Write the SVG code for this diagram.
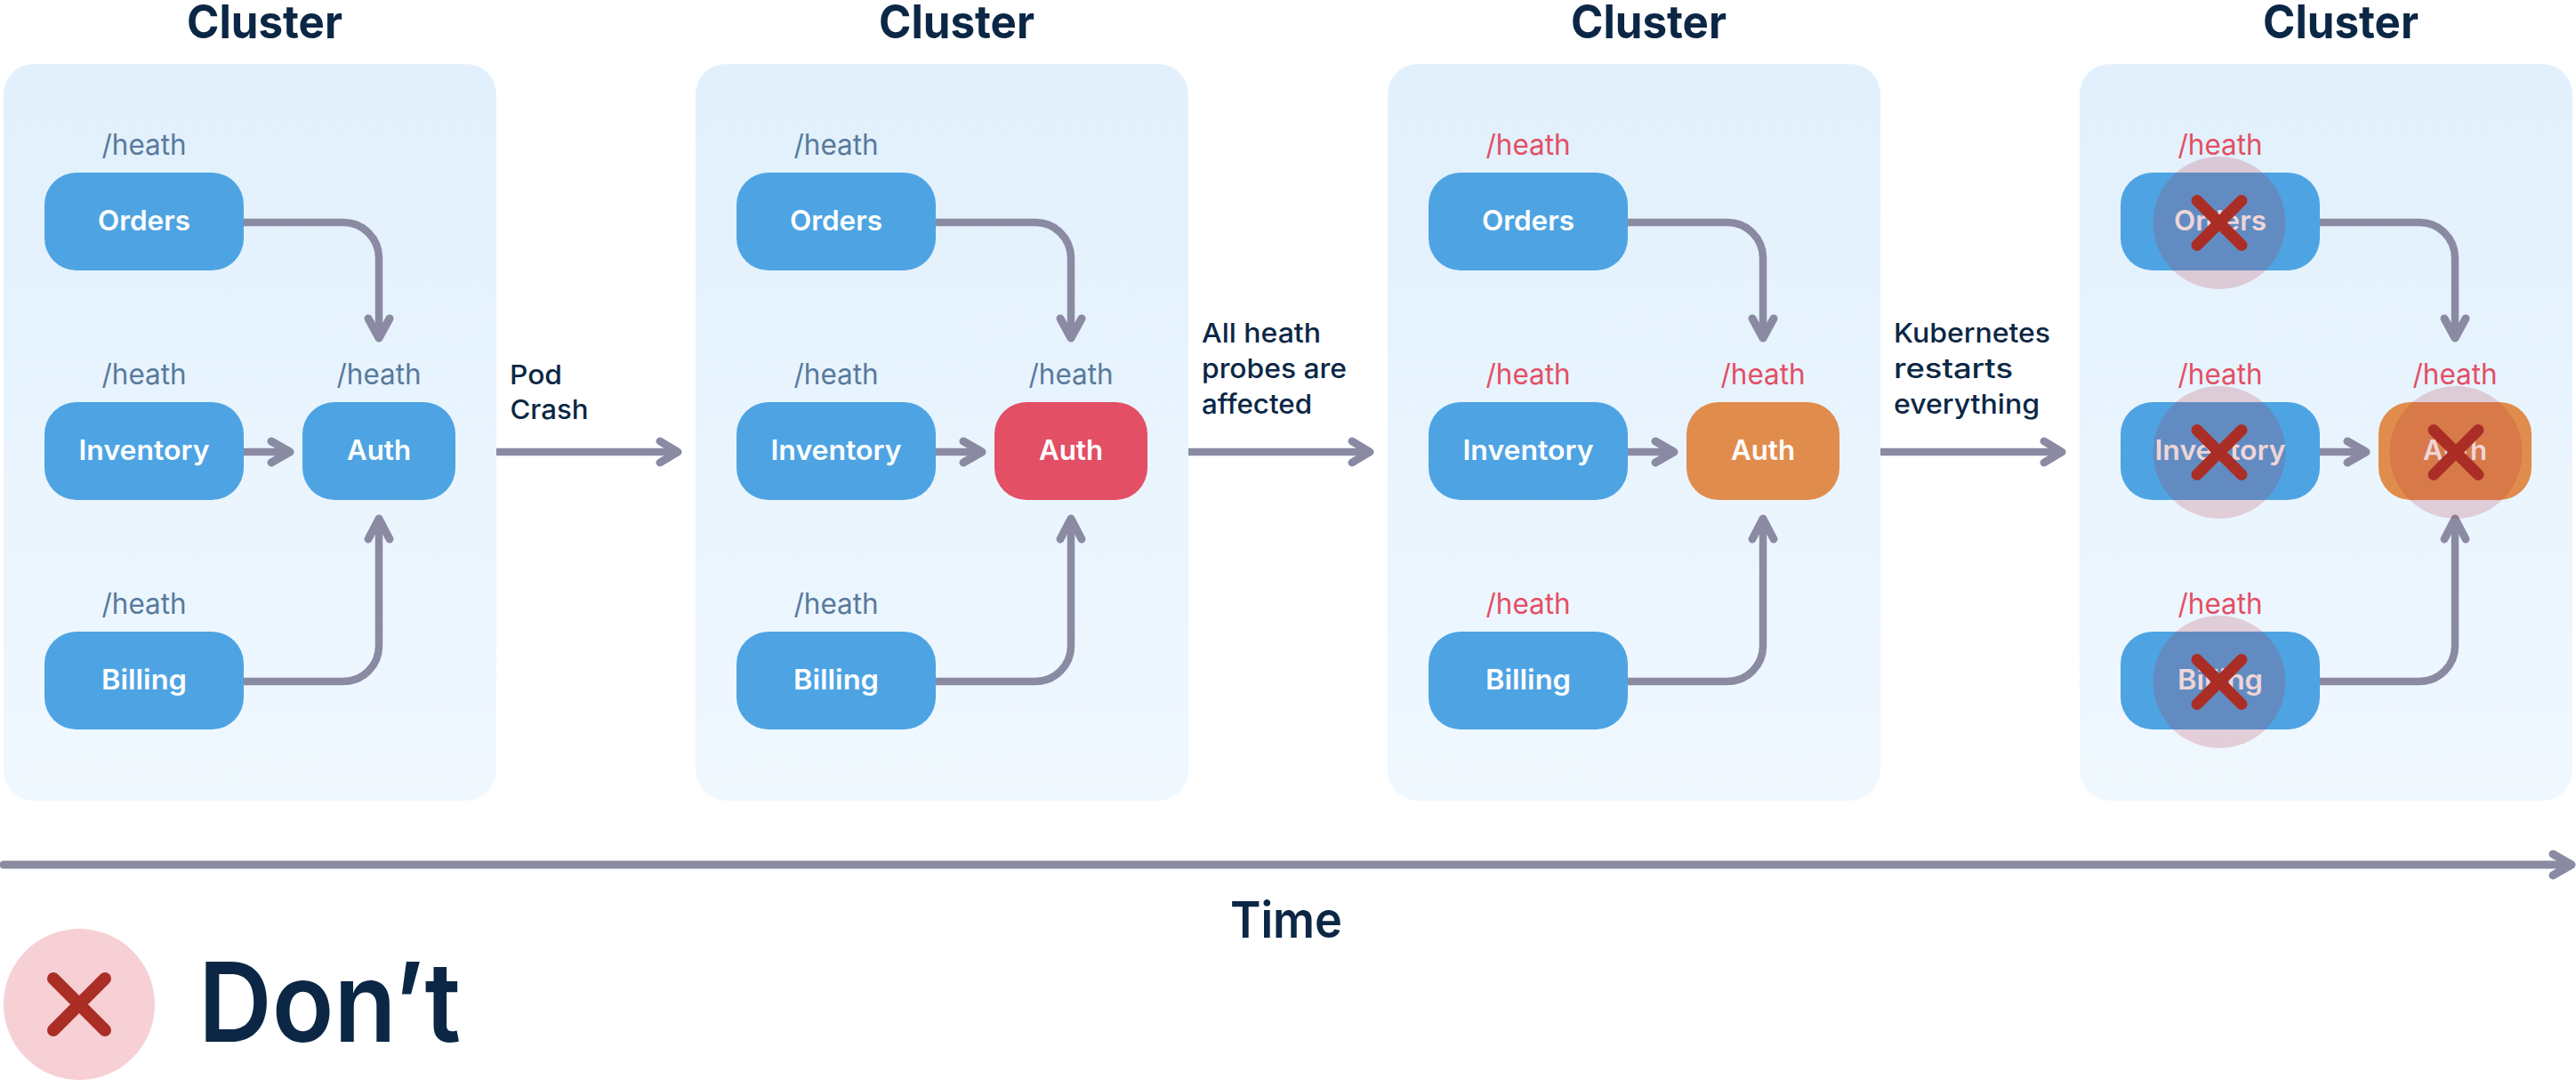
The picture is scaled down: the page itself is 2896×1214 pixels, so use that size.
<svg xmlns="http://www.w3.org/2000/svg" width="2896" height="1214" viewBox="0 0 2896 1214">
<style>
text{font-family:"Inter","Liberation Sans",sans-serif}
.title{font-size:52px;font-weight:700;fill:#0b2745;text-anchor:middle}
.time{font-size:56px;font-weight:600;fill:#0b2745;text-anchor:middle}
.dont{font-size:124px;font-weight:600;fill:#0b2745}
.lab{font-size:30px;font-weight:500;fill:#0b2745}
.hp{font-size:32px;font-weight:400;fill:#587a9c;text-anchor:middle}
.hr{font-size:32px;font-weight:400;fill:#e34f65;text-anchor:middle}
.nt{font-size:31px;font-weight:600;fill:#fff;text-anchor:middle}
.panel{fill:url(#pg)}
.blue{fill:#4ea4e3}.red{fill:#e34f65}.orange{fill:#e08c4d}
.c{fill:none;stroke:#8b8aa3;stroke-width:8.5;stroke-linecap:butt}
.h{fill:none;stroke:#8b8aa3;stroke-width:9;stroke-linecap:round;stroke-linejoin:round}
.o{fill:#b42d3c;fill-opacity:.2}
.x{stroke:#aa2e26;stroke-width:13;stroke-linecap:round;fill:none}
</style>
<defs>
<linearGradient id="pg" x1="0" y1="0" x2="0" y2="1"><stop offset="0" stop-color="#e1f0fc"/><stop offset="1" stop-color="#f0f8ff"/></linearGradient>
</defs>

<g id="panels">
<g id="cluster-1"><rect class="panel" x="4" y="72" width="554" height="828" rx="34"/><text class="title" x="297.5" y="43" textLength="175" lengthAdjust="spacingAndGlyphs">Cluster</text></g>
<g id="cluster-2"><rect class="panel" x="782" y="72" width="554" height="828" rx="34"/><text class="title" x="1075.5" y="43" textLength="175" lengthAdjust="spacingAndGlyphs">Cluster</text></g>
<g id="cluster-3"><rect class="panel" x="1560" y="72" width="554" height="828" rx="34"/><text class="title" x="1853.5" y="43" textLength="175" lengthAdjust="spacingAndGlyphs">Cluster</text></g>
<g id="cluster-4"><rect class="panel" x="2338" y="72" width="554" height="828" rx="34"/><text class="title" x="2631.5" y="43" textLength="175" lengthAdjust="spacingAndGlyphs">Cluster</text></g>
</g>

<g id="connectors">
<path class="c" d="M274 250H386A40 40 0 0 1 426 290V378"/><path class="h" d="M414 358L426 380L438 358"/>
<path class="c" d="M274 508H324"/><path class="h" d="M305 496L326 508L305 520"/>
<path class="c" d="M274 766H386A40 40 0 0 0 426 726V586"/><path class="h" d="M414 606L426 583L438 606"/>
<path class="c" d="M558 508H760"/><path class="h" d="M742 496L762 508L742 520"/>

<path class="c" d="M1052 250H1164A40 40 0 0 1 1204 290V378"/><path class="h" d="M1192 358L1204 380L1216 358"/>
<path class="c" d="M1052 508H1102"/><path class="h" d="M1083 496L1104 508L1083 520"/>
<path class="c" d="M1052 766H1164A40 40 0 0 0 1204 726V586"/><path class="h" d="M1192 606L1204 583L1216 606"/>
<path class="c" d="M1336 508H1538"/><path class="h" d="M1520 496L1540 508L1520 520"/>

<path class="c" d="M1830 250H1942A40 40 0 0 1 1982 290V378"/><path class="h" d="M1970 358L1982 380L1994 358"/>
<path class="c" d="M1830 508H1880"/><path class="h" d="M1861 496L1882 508L1861 520"/>
<path class="c" d="M1830 766H1942A40 40 0 0 0 1982 726V586"/><path class="h" d="M1970 606L1982 583L1994 606"/>
<path class="c" d="M2114 508H2316"/><path class="h" d="M2298 496L2318 508L2298 520"/>

<path class="c" d="M2608 250H2720A40 40 0 0 1 2760 290V378"/><path class="h" d="M2748 358L2760 380L2772 358"/>
<path class="c" d="M2608 508H2658"/><path class="h" d="M2639 496L2660 508L2639 520"/>
<path class="c" d="M2608 766H2720A40 40 0 0 0 2760 726V586"/><path class="h" d="M2748 606L2760 583L2772 606"/>

<path class="h" d="M4 972H2888"/><path class="h" d="M2870 960L2891 972L2870 984"/>
</g>

<g id="c1-orders"><text class="hp" x="162" y="174" textLength="95" lengthAdjust="spacingAndGlyphs">/heath</text><rect class="blue" x="50" y="194" width="224" height="110" rx="36"/><text class="nt" x="162" y="259" textLength="104" lengthAdjust="spacingAndGlyphs">Orders</text></g>
<g id="c1-inventory"><text class="hp" x="162" y="432" textLength="95" lengthAdjust="spacingAndGlyphs">/heath</text><rect class="blue" x="50" y="452" width="224" height="110" rx="36"/><text class="nt" x="162" y="517" textLength="147" lengthAdjust="spacingAndGlyphs">Inventory</text></g>
<g id="c1-billing"><text class="hp" x="162" y="690" textLength="95" lengthAdjust="spacingAndGlyphs">/heath</text><rect class="blue" x="50" y="710" width="224" height="110" rx="36"/><text class="nt" x="162" y="775" textLength="96" lengthAdjust="spacingAndGlyphs">Billing</text></g>
<g id="c1-auth"><text class="hp" x="426" y="432" textLength="95" lengthAdjust="spacingAndGlyphs">/heath</text><rect class="blue" x="340" y="452" width="172" height="110" rx="36"/><text class="nt" x="426" y="517" textLength="72" lengthAdjust="spacingAndGlyphs">Auth</text></g>

<g id="c2-orders"><text class="hp" x="940" y="174" textLength="95" lengthAdjust="spacingAndGlyphs">/heath</text><rect class="blue" x="828" y="194" width="224" height="110" rx="36"/><text class="nt" x="940" y="259" textLength="104" lengthAdjust="spacingAndGlyphs">Orders</text></g>
<g id="c2-inventory"><text class="hp" x="940" y="432" textLength="95" lengthAdjust="spacingAndGlyphs">/heath</text><rect class="blue" x="828" y="452" width="224" height="110" rx="36"/><text class="nt" x="940" y="517" textLength="147" lengthAdjust="spacingAndGlyphs">Inventory</text></g>
<g id="c2-billing"><text class="hp" x="940" y="690" textLength="95" lengthAdjust="spacingAndGlyphs">/heath</text><rect class="blue" x="828" y="710" width="224" height="110" rx="36"/><text class="nt" x="940" y="775" textLength="96" lengthAdjust="spacingAndGlyphs">Billing</text></g>
<g id="c2-auth"><text class="hp" x="1204" y="432" textLength="95" lengthAdjust="spacingAndGlyphs">/heath</text><rect class="red" x="1118" y="452" width="172" height="110" rx="36"/><text class="nt" x="1204" y="517" textLength="72" lengthAdjust="spacingAndGlyphs">Auth</text></g>

<g id="c3-orders"><text class="hr" x="1718" y="174" textLength="95" lengthAdjust="spacingAndGlyphs">/heath</text><rect class="blue" x="1606" y="194" width="224" height="110" rx="36"/><text class="nt" x="1718" y="259" textLength="104" lengthAdjust="spacingAndGlyphs">Orders</text></g>
<g id="c3-inventory"><text class="hr" x="1718" y="432" textLength="95" lengthAdjust="spacingAndGlyphs">/heath</text><rect class="blue" x="1606" y="452" width="224" height="110" rx="36"/><text class="nt" x="1718" y="517" textLength="147" lengthAdjust="spacingAndGlyphs">Inventory</text></g>
<g id="c3-billing"><text class="hr" x="1718" y="690" textLength="95" lengthAdjust="spacingAndGlyphs">/heath</text><rect class="blue" x="1606" y="710" width="224" height="110" rx="36"/><text class="nt" x="1718" y="775" textLength="96" lengthAdjust="spacingAndGlyphs">Billing</text></g>
<g id="c3-auth"><text class="hr" x="1982" y="432" textLength="95" lengthAdjust="spacingAndGlyphs">/heath</text><rect class="orange" x="1896" y="452" width="172" height="110" rx="36"/><text class="nt" x="1982" y="517" textLength="72" lengthAdjust="spacingAndGlyphs">Auth</text></g>

<g id="c4-orders"><text class="hr" x="2496" y="174" textLength="95" lengthAdjust="spacingAndGlyphs">/heath</text><rect class="blue" x="2384" y="194" width="224" height="110" rx="36"/><text class="nt" x="2496" y="259" textLength="104" lengthAdjust="spacingAndGlyphs">Orders</text><circle class="o" cx="2495" cy="250.5" r="74.5"/><path class="x" d="M2470 225.5L2520 275.5M2520 225.5L2470 275.5"/></g>
<g id="c4-inventory"><text class="hr" x="2496" y="432" textLength="95" lengthAdjust="spacingAndGlyphs">/heath</text><rect class="blue" x="2384" y="452" width="224" height="110" rx="36"/><text class="nt" x="2496" y="517" textLength="147" lengthAdjust="spacingAndGlyphs">Inventory</text><circle class="o" cx="2495" cy="508.5" r="74.5"/><path class="x" d="M2470 483.5L2520 533.5M2520 483.5L2470 533.5"/></g>
<g id="c4-billing"><text class="hr" x="2496" y="690" textLength="95" lengthAdjust="spacingAndGlyphs">/heath</text><rect class="blue" x="2384" y="710" width="224" height="110" rx="36"/><text class="nt" x="2496" y="775" textLength="96" lengthAdjust="spacingAndGlyphs">Billing</text><circle class="o" cx="2495" cy="766.5" r="74.5"/><path class="x" d="M2470 741.5L2520 791.5M2520 741.5L2470 791.5"/></g>
<g id="c4-auth"><text class="hr" x="2760" y="432" textLength="95" lengthAdjust="spacingAndGlyphs">/heath</text><rect class="orange" x="2674" y="452" width="172" height="110" rx="36"/><text class="nt" x="2760" y="517" textLength="72" lengthAdjust="spacingAndGlyphs">Auth</text><circle class="o" cx="2761" cy="508.5" r="74.5"/><path class="x" d="M2736 483.5L2786 533.5M2786 483.5L2736 533.5"/></g>

<g id="labels">
<text class="lab" x="573" y="432" textLength="59" lengthAdjust="spacingAndGlyphs">Pod</text>
<text class="lab" x="573.5" y="471" textLength="88" lengthAdjust="spacingAndGlyphs">Crash</text>
<text class="lab" x="1351" y="385" textLength="134" lengthAdjust="spacingAndGlyphs">All heath</text>
<text class="lab" x="1351" y="425" textLength="163" lengthAdjust="spacingAndGlyphs">probes are</text>
<text class="lab" x="1351" y="465" textLength="124" lengthAdjust="spacingAndGlyphs">affected</text>
<text class="lab" x="2129" y="385" textLength="176" lengthAdjust="spacingAndGlyphs">Kubernetes</text>
<text class="lab" x="2129" y="425" textLength="134" lengthAdjust="spacingAndGlyphs">restarts</text>
<text class="lab" x="2129" y="465" textLength="164" lengthAdjust="spacingAndGlyphs">everything</text>
<text class="time" x="1446" y="1054" textLength="126" lengthAdjust="spacingAndGlyphs">Time</text>
</g>

<g id="legend">
<circle cx="89" cy="1129" r="85" fill="#f6d0d5"/>
<path class="x" style="stroke-width:14" d="M60 1100L118 1158M118 1100L60 1158"/>
<text class="dont" x="223" y="1171" textLength="295" lengthAdjust="spacingAndGlyphs">Don’t</text>
</g>
</svg>
